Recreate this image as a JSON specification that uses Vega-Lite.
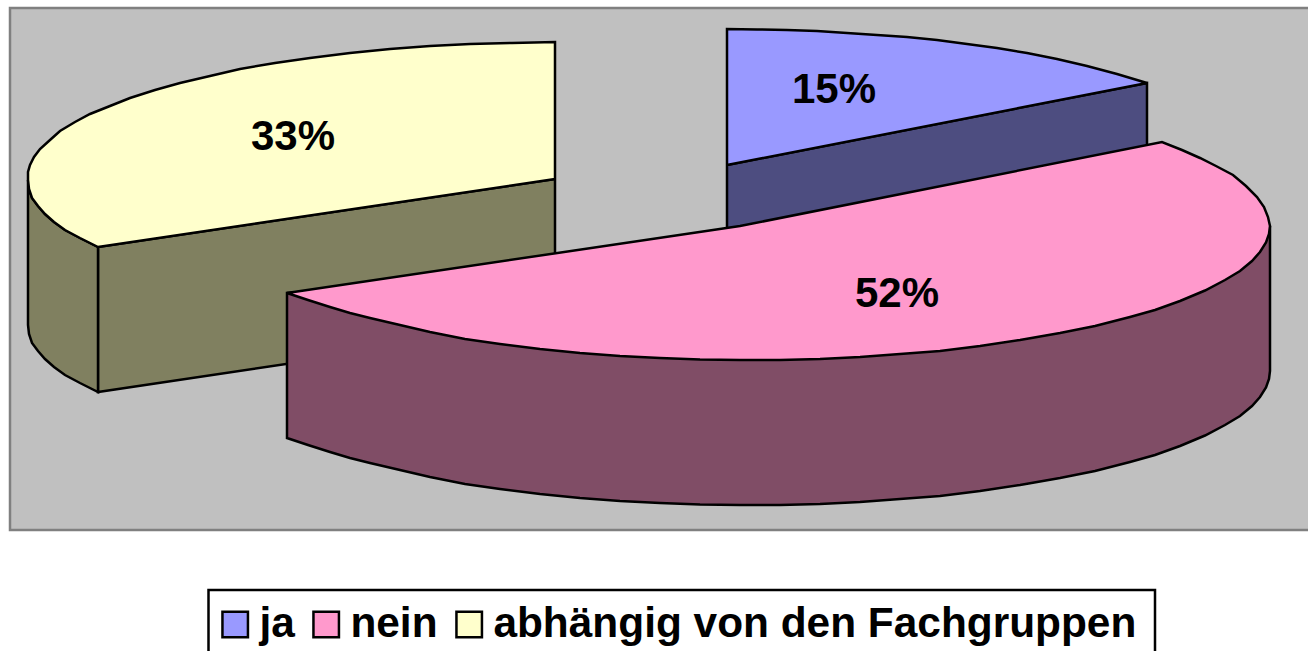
{"$schema":"https://vega.github.io/schema/vega-lite/v6.json","width":1308,"height":651,"padding":0,"autosize":{"type":"fit","contains":"padding"},"background":"#ffffff","config":{"view":{"stroke":null}},"datasets":{"frame":[{"x0":10,"x1":1315,"y0":8,"y1":530}],"box":[{"x0":208.5,"x1":1155,"y0":590,"y1":660}],"labels":[{"slice":"ja","share":"15%","x":834,"y":90},{"slice":"nein","share":"52%","x":897,"y":294},{"slice":"abhängig von den Fachgruppen","share":"33%","x":293,"y":137}],"outline":[
{"slice":"abhängig von den Fachgruppen","face":"side","part":"y1","seq":1,"x":555,"y":179},{"slice":"abhängig von den Fachgruppen","face":"side","part":"y1","seq":2,"x":98,"y":247},{"slice":"abhängig von den Fachgruppen","face":"side","part":"y1","seq":3,"x":98,"y":392},{"slice":"abhängig von den Fachgruppen","face":"side","part":"y1","seq":4,"x":555,"y":324},{"slice":"abhängig von den Fachgruppen","face":"side","part":"y1","seq":5,"x":555,"y":179},
{"slice":"abhängig von den Fachgruppen","face":"side","part":"y2","seq":1,"x":28,"y":180},{"slice":"abhängig von den Fachgruppen","face":"side","part":"y2","seq":2,"x":29,"y":189},{"slice":"abhängig von den Fachgruppen","face":"side","part":"y2","seq":3,"x":32,"y":198},{"slice":"abhängig von den Fachgruppen","face":"side","part":"y2","seq":4,"x":38,"y":206},{"slice":"abhängig von den Fachgruppen","face":"side","part":"y2","seq":5,"x":45,"y":214},{"slice":"abhängig von den Fachgruppen","face":"side","part":"y2","seq":6,"x":54,"y":222},{"slice":"abhängig von den Fachgruppen","face":"side","part":"y2","seq":7,"x":65,"y":230},{"slice":"abhängig von den Fachgruppen","face":"side","part":"y2","seq":8,"x":80,"y":238},{"slice":"abhängig von den Fachgruppen","face":"side","part":"y2","seq":9,"x":98,"y":247},{"slice":"abhängig von den Fachgruppen","face":"side","part":"y2","seq":10,"x":98,"y":392},{"slice":"abhängig von den Fachgruppen","face":"side","part":"y2","seq":11,"x":80,"y":383},{"slice":"abhängig von den Fachgruppen","face":"side","part":"y2","seq":12,"x":65,"y":375},{"slice":"abhängig von den Fachgruppen","face":"side","part":"y2","seq":13,"x":54,"y":367},{"slice":"abhängig von den Fachgruppen","face":"side","part":"y2","seq":14,"x":45,"y":359},{"slice":"abhängig von den Fachgruppen","face":"side","part":"y2","seq":15,"x":38,"y":351},{"slice":"abhängig von den Fachgruppen","face":"side","part":"y2","seq":16,"x":32,"y":343},{"slice":"abhängig von den Fachgruppen","face":"side","part":"y2","seq":17,"x":29,"y":334},{"slice":"abhängig von den Fachgruppen","face":"side","part":"y2","seq":18,"x":28,"y":325},{"slice":"abhängig von den Fachgruppen","face":"side","part":"y2","seq":19,"x":28,"y":180},
{"slice":"ja","face":"side","part":"j1","seq":1,"x":727,"y":165},{"slice":"ja","face":"side","part":"j1","seq":2,"x":1147,"y":83},{"slice":"ja","face":"side","part":"j1","seq":3,"x":1147,"y":228},{"slice":"ja","face":"side","part":"j1","seq":4,"x":727,"y":310},{"slice":"ja","face":"side","part":"j1","seq":5,"x":727,"y":165},
{"slice":"nein","face":"side","part":"n1","seq":1,"x":1270,"y":226},{"slice":"nein","face":"side","part":"n1","seq":2,"x":287,"y":293},{"slice":"nein","face":"side","part":"n1","seq":3,"x":287,"y":438},{"slice":"nein","face":"side","part":"n1","seq":4,"x":308,"y":445},{"slice":"nein","face":"side","part":"n1","seq":5,"x":330,"y":452},{"slice":"nein","face":"side","part":"n1","seq":6,"x":350,"y":458},{"slice":"nein","face":"side","part":"n1","seq":7,"x":370,"y":463},{"slice":"nein","face":"side","part":"n1","seq":8,"x":400,"y":470},{"slice":"nein","face":"side","part":"n1","seq":9,"x":430,"y":477},{"slice":"nein","face":"side","part":"n1","seq":10,"x":465,"y":484},{"slice":"nein","face":"side","part":"n1","seq":11,"x":500,"y":489},{"slice":"nein","face":"side","part":"n1","seq":12,"x":540,"y":494},{"slice":"nein","face":"side","part":"n1","seq":13,"x":580,"y":498},{"slice":"nein","face":"side","part":"n1","seq":14,"x":620,"y":501},{"slice":"nein","face":"side","part":"n1","seq":15,"x":660,"y":503},{"slice":"nein","face":"side","part":"n1","seq":16,"x":700,"y":504.5},{"slice":"nein","face":"side","part":"n1","seq":17,"x":740,"y":505},{"slice":"nein","face":"side","part":"n1","seq":18,"x":780,"y":505},{"slice":"nein","face":"side","part":"n1","seq":19,"x":820,"y":504},{"slice":"nein","face":"side","part":"n1","seq":20,"x":860,"y":502},{"slice":"nein","face":"side","part":"n1","seq":21,"x":900,"y":499},{"slice":"nein","face":"side","part":"n1","seq":22,"x":940,"y":496},{"slice":"nein","face":"side","part":"n1","seq":23,"x":980,"y":491},{"slice":"nein","face":"side","part":"n1","seq":24,"x":1020,"y":485},{"slice":"nein","face":"side","part":"n1","seq":25,"x":1060,"y":478},{"slice":"nein","face":"side","part":"n1","seq":26,"x":1095,"y":471},{"slice":"nein","face":"side","part":"n1","seq":27,"x":1130,"y":462},{"slice":"nein","face":"side","part":"n1","seq":28,"x":1155,"y":455},{"slice":"nein","face":"side","part":"n1","seq":29,"x":1180,"y":446},{"slice":"nein","face":"side","part":"n1","seq":30,"x":1205,"y":435.5},{"slice":"nein","face":"side","part":"n1","seq":31,"x":1225,"y":425},{"slice":"nein","face":"side","part":"n1","seq":32,"x":1240,"y":416},{"slice":"nein","face":"side","part":"n1","seq":33,"x":1252,"y":406},{"slice":"nein","face":"side","part":"n1","seq":34,"x":1260,"y":397},{"slice":"nein","face":"side","part":"n1","seq":35,"x":1266,"y":387.5},{"slice":"nein","face":"side","part":"n1","seq":36,"x":1269,"y":379},{"slice":"nein","face":"side","part":"n1","seq":37,"x":1270,"y":371},{"slice":"nein","face":"side","part":"n1","seq":38,"x":1270,"y":226},
{"slice":"abhängig von den Fachgruppen","face":"top","part":"y3","seq":1,"x":555,"y":179},{"slice":"abhängig von den Fachgruppen","face":"top","part":"y3","seq":2,"x":555,"y":42},{"slice":"abhängig von den Fachgruppen","face":"top","part":"y3","seq":3,"x":512,"y":43},{"slice":"abhängig von den Fachgruppen","face":"top","part":"y3","seq":4,"x":470,"y":44},{"slice":"abhängig von den Fachgruppen","face":"top","part":"y3","seq":5,"x":430,"y":46},{"slice":"abhängig von den Fachgruppen","face":"top","part":"y3","seq":6,"x":390,"y":49},{"slice":"abhängig von den Fachgruppen","face":"top","part":"y3","seq":7,"x":350,"y":53},{"slice":"abhängig von den Fachgruppen","face":"top","part":"y3","seq":8,"x":310,"y":58},{"slice":"abhängig von den Fachgruppen","face":"top","part":"y3","seq":9,"x":275,"y":63},{"slice":"abhängig von den Fachgruppen","face":"top","part":"y3","seq":10,"x":240,"y":69},{"slice":"abhängig von den Fachgruppen","face":"top","part":"y3","seq":11,"x":210,"y":76},{"slice":"abhängig von den Fachgruppen","face":"top","part":"y3","seq":12,"x":180,"y":83},{"slice":"abhängig von den Fachgruppen","face":"top","part":"y3","seq":13,"x":155,"y":90},{"slice":"abhängig von den Fachgruppen","face":"top","part":"y3","seq":14,"x":130,"y":98},{"slice":"abhängig von den Fachgruppen","face":"top","part":"y3","seq":15,"x":110,"y":106},{"slice":"abhängig von den Fachgruppen","face":"top","part":"y3","seq":16,"x":90,"y":114},{"slice":"abhängig von den Fachgruppen","face":"top","part":"y3","seq":17,"x":75,"y":122},{"slice":"abhängig von den Fachgruppen","face":"top","part":"y3","seq":18,"x":60,"y":131},{"slice":"abhängig von den Fachgruppen","face":"top","part":"y3","seq":19,"x":50,"y":140},{"slice":"abhängig von den Fachgruppen","face":"top","part":"y3","seq":20,"x":40,"y":149},{"slice":"abhängig von den Fachgruppen","face":"top","part":"y3","seq":21,"x":34,"y":157},{"slice":"abhängig von den Fachgruppen","face":"top","part":"y3","seq":22,"x":30,"y":165},{"slice":"abhängig von den Fachgruppen","face":"top","part":"y3","seq":23,"x":28,"y":172},{"slice":"abhängig von den Fachgruppen","face":"top","part":"y3","seq":24,"x":28,"y":180},{"slice":"abhängig von den Fachgruppen","face":"top","part":"y3","seq":25,"x":29,"y":189},{"slice":"abhängig von den Fachgruppen","face":"top","part":"y3","seq":26,"x":32,"y":198},{"slice":"abhängig von den Fachgruppen","face":"top","part":"y3","seq":27,"x":38,"y":206},{"slice":"abhängig von den Fachgruppen","face":"top","part":"y3","seq":28,"x":45,"y":214},{"slice":"abhängig von den Fachgruppen","face":"top","part":"y3","seq":29,"x":54,"y":222},{"slice":"abhängig von den Fachgruppen","face":"top","part":"y3","seq":30,"x":65,"y":230},{"slice":"abhängig von den Fachgruppen","face":"top","part":"y3","seq":31,"x":80,"y":238},{"slice":"abhängig von den Fachgruppen","face":"top","part":"y3","seq":32,"x":98,"y":247},{"slice":"abhängig von den Fachgruppen","face":"top","part":"y3","seq":33,"x":555,"y":179},
{"slice":"ja","face":"top","part":"j2","seq":1,"x":727,"y":165},{"slice":"ja","face":"top","part":"j2","seq":2,"x":727,"y":29},{"slice":"ja","face":"top","part":"j2","seq":3,"x":757,"y":29.5},{"slice":"ja","face":"top","part":"j2","seq":4,"x":787,"y":30},{"slice":"ja","face":"top","part":"j2","seq":5,"x":817,"y":31},{"slice":"ja","face":"top","part":"j2","seq":6,"x":847,"y":33},{"slice":"ja","face":"top","part":"j2","seq":7,"x":877,"y":35},{"slice":"ja","face":"top","part":"j2","seq":8,"x":907,"y":37},{"slice":"ja","face":"top","part":"j2","seq":9,"x":937,"y":40},{"slice":"ja","face":"top","part":"j2","seq":10,"x":967,"y":44},{"slice":"ja","face":"top","part":"j2","seq":11,"x":997,"y":48},{"slice":"ja","face":"top","part":"j2","seq":12,"x":1027,"y":53},{"slice":"ja","face":"top","part":"j2","seq":13,"x":1057,"y":59},{"slice":"ja","face":"top","part":"j2","seq":14,"x":1087,"y":66},{"slice":"ja","face":"top","part":"j2","seq":15,"x":1117,"y":74},{"slice":"ja","face":"top","part":"j2","seq":16,"x":1147,"y":83},{"slice":"ja","face":"top","part":"j2","seq":17,"x":727,"y":165},
{"slice":"nein","face":"top","part":"n2","seq":1,"x":287,"y":293},{"slice":"nein","face":"top","part":"n2","seq":2,"x":740,"y":226},{"slice":"nein","face":"top","part":"n2","seq":3,"x":1162,"y":142},{"slice":"nein","face":"top","part":"n2","seq":4,"x":1182,"y":150},{"slice":"nein","face":"top","part":"n2","seq":5,"x":1200,"y":158},{"slice":"nein","face":"top","part":"n2","seq":6,"x":1216,"y":166},{"slice":"nein","face":"top","part":"n2","seq":7,"x":1233,"y":175},{"slice":"nein","face":"top","part":"n2","seq":8,"x":1246,"y":186},{"slice":"nein","face":"top","part":"n2","seq":9,"x":1257,"y":197},{"slice":"nein","face":"top","part":"n2","seq":10,"x":1264,"y":207},{"slice":"nein","face":"top","part":"n2","seq":11,"x":1268,"y":217},{"slice":"nein","face":"top","part":"n2","seq":12,"x":1270,"y":226},{"slice":"nein","face":"top","part":"n2","seq":13,"x":1269,"y":234},{"slice":"nein","face":"top","part":"n2","seq":14,"x":1266,"y":242.5},{"slice":"nein","face":"top","part":"n2","seq":15,"x":1260,"y":252},{"slice":"nein","face":"top","part":"n2","seq":16,"x":1252,"y":261},{"slice":"nein","face":"top","part":"n2","seq":17,"x":1240,"y":271},{"slice":"nein","face":"top","part":"n2","seq":18,"x":1225,"y":280},{"slice":"nein","face":"top","part":"n2","seq":19,"x":1205,"y":290.5},{"slice":"nein","face":"top","part":"n2","seq":20,"x":1180,"y":301},{"slice":"nein","face":"top","part":"n2","seq":21,"x":1155,"y":310},{"slice":"nein","face":"top","part":"n2","seq":22,"x":1130,"y":317},{"slice":"nein","face":"top","part":"n2","seq":23,"x":1095,"y":326},{"slice":"nein","face":"top","part":"n2","seq":24,"x":1060,"y":333},{"slice":"nein","face":"top","part":"n2","seq":25,"x":1020,"y":340},{"slice":"nein","face":"top","part":"n2","seq":26,"x":980,"y":346},{"slice":"nein","face":"top","part":"n2","seq":27,"x":940,"y":351},{"slice":"nein","face":"top","part":"n2","seq":28,"x":900,"y":354},{"slice":"nein","face":"top","part":"n2","seq":29,"x":860,"y":357},{"slice":"nein","face":"top","part":"n2","seq":30,"x":820,"y":359},{"slice":"nein","face":"top","part":"n2","seq":31,"x":780,"y":360},{"slice":"nein","face":"top","part":"n2","seq":32,"x":740,"y":360},{"slice":"nein","face":"top","part":"n2","seq":33,"x":700,"y":359.5},{"slice":"nein","face":"top","part":"n2","seq":34,"x":660,"y":358},{"slice":"nein","face":"top","part":"n2","seq":35,"x":620,"y":356},{"slice":"nein","face":"top","part":"n2","seq":36,"x":580,"y":353},{"slice":"nein","face":"top","part":"n2","seq":37,"x":540,"y":349},{"slice":"nein","face":"top","part":"n2","seq":38,"x":500,"y":344},{"slice":"nein","face":"top","part":"n2","seq":39,"x":465,"y":339},{"slice":"nein","face":"top","part":"n2","seq":40,"x":430,"y":332},{"slice":"nein","face":"top","part":"n2","seq":41,"x":400,"y":325},{"slice":"nein","face":"top","part":"n2","seq":42,"x":370,"y":318},{"slice":"nein","face":"top","part":"n2","seq":43,"x":350,"y":313},{"slice":"nein","face":"top","part":"n2","seq":44,"x":330,"y":307},{"slice":"nein","face":"top","part":"n2","seq":45,"x":308,"y":300},{"slice":"nein","face":"top","part":"n2","seq":46,"x":287,"y":293}
]},
"layer":[
{"data":{"name":"frame"},"mark":{"type":"rect","fill":"#c0c0c0","stroke":"#808080","strokeWidth":2.5,"clip":true},"encoding":{"x":{"field":"x0","type":"quantitative","scale":{"domain":[0,1308]},"axis":null},"x2":{"field":"x1"},"y":{"field":"y0","type":"quantitative","scale":{"domain":[651,0]},"axis":null},"y2":{"field":"y1"}}},
{"data":{"name":"box"},"mark":{"type":"rect","fill":"#ffffff","stroke":"#000000","strokeWidth":2.5,"clip":true},"encoding":{"x":{"field":"x0","type":"quantitative","scale":{"domain":[0,1308]},"axis":null},"x2":{"field":"x1"},"y":{"field":"y0","type":"quantitative","scale":{"domain":[651,0]},"axis":null},"y2":{"field":"y1"}}},
{"data":{"name":"outline"},"transform":[{"filter":"datum.face === 'side'"}],"mark":{"type":"line","stroke":"#000000","strokeWidth":2.5,"strokeJoin":"miter"},"encoding":{"x":{"field":"x","type":"quantitative","scale":{"domain":[0,1308]},"axis":null},"y":{"field":"y","type":"quantitative","scale":{"domain":[651,0]},"axis":null},"detail":{"field":"part"},"order":{"field":"seq"},"fill":{"field":"slice","type":"nominal","legend":null,"scale":{"domain":["abhängig von den Fachgruppen","ja","nein"],"range":["#808060","#4d4d80","#804d66"]}}}},
{"data":{"name":"outline"},"transform":[{"filter":"datum.face === 'top'"}],"mark":{"type":"line","stroke":"#000000","strokeWidth":2.5,"strokeJoin":"miter"},"encoding":{"x":{"field":"x","type":"quantitative","scale":{"domain":[0,1308]},"axis":null},"y":{"field":"y","type":"quantitative","scale":{"domain":[651,0]},"axis":null},"detail":{"field":"part"},"order":{"field":"seq"},"fill":{"field":"slice","type":"nominal","scale":{"domain":["ja","nein","abhängig von den Fachgruppen"],"range":["#9999ff","#ff99cc","#ffffcc"]},"legend":{"title":null,"orient":"none","legendX":214,"legendY":603,"direction":"horizontal","columns":3,"symbolType":"square","symbolSize":650,"symbolStrokeColor":"#000000","symbolStrokeWidth":2.5,"labelFont":"Liberation Sans","labelFontWeight":"bold","labelFontSize":42.4,"labelColor":"#000000","labelOffset":3,"labelLimit":800,"columnPadding":10,"padding":0}}}},
{"data":{"name":"labels"},"mark":{"type":"text","font":"Liberation Sans","fontWeight":"bold","fontSize":42,"color":"#000000","align":"center","baseline":"middle"},"encoding":{"x":{"field":"x","type":"quantitative","scale":{"domain":[0,1308]},"axis":null},"y":{"field":"y","type":"quantitative","scale":{"domain":[651,0]},"axis":null},"text":{"field":"share"}}}
],
"resolve":{"scale":{"fill":"independent"},"legend":{"fill":"independent"}}}
